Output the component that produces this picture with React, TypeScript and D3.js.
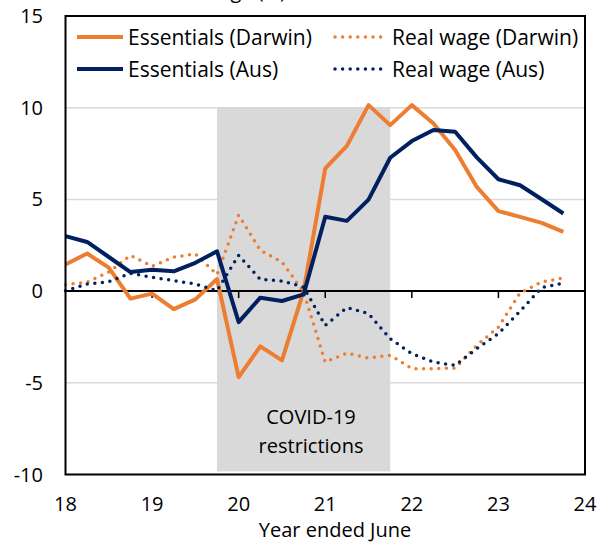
import React from "react";
import * as d3 from "d3";

// quarterly, year ended June
const quarters = [
  18, 18.25, 18.5, 18.75, 19, 19.25, 19.5, 19.75, 20, 20.25, 20.5, 20.75,
  21, 21.25, 21.5, 21.75, 22, 22.25, 22.5, 22.75, 23, 23.25, 23.5, 23.75,
];

const essentialsDarwin = [
  1.45, 2.05, 1.28, -0.41, -0.14, -0.98, -0.45, 0.66, -4.69, -3.01, -3.78, 0.0,
  6.69, 7.92, 10.14, 9.05, 10.14, 9.14, 7.69, 5.68, 4.36, 4.05, 3.72, 3.23,
];
const realWageDarwin = [
  0.35, 0.48, 1.04, 1.95, 1.35, 1.85, 2.03, 0.9, 4.14, 2.23, 1.59, -0.05,
  -3.87, -3.38, -3.65, -3.5, -4.23, -4.23, -4.2, -2.96, -1.96, -0.1, 0.5, 0.72,
];
const essentialsAus = [
  3.0, 2.68, 1.86, 1.04, 1.17, 1.08, 1.54, 2.17, -1.69, -0.36, -0.54, -0.18,
  4.05, 3.83, 4.99, 7.27, 8.18, 8.78, 8.69, 7.29, 6.1, 5.77, 5.01, 4.23,
];
const realWageAus = [
  0.02, 0.39, 0.51, 0.97, 0.75, 0.57, 0.39, 0.02, 1.95, 0.64, 0.55, 0.22,
  -1.87, -0.9, -1.23, -2.6, -3.41, -3.87, -4.05, -3.14, -2.32, -1.1, 0.19, 0.44,
];

const yTicks = [15, 10, 5, 0, -5, -10];
const xTicks = [18, 19, 20, 21, 22, 23, 24];
const gridValues = [10, 5, -5];
const covidPeriod = [19.75, 21.75];

const ORANGE = "#ED7D31";
const NAVY = "#002060";
const FONT = "'Open Sans', sans-serif";

const series = [
  { name: "Essentials (Darwin)", values: essentialsDarwin, color: ORANGE, dotted: false },
  { name: "Real wage (Darwin)", values: realWageDarwin, color: ORANGE, dotted: true },
  { name: "Essentials (Aus)", values: essentialsAus, color: NAVY, dotted: false },
  { name: "Real wage (Aus)", values: realWageAus, color: NAVY, dotted: true },
];

const App = () => {
  const width = 608;
  const height = 542;
  const left = 65.5;
  const right = 585;
  const top = 16;
  const bottom = 474.5;

  const x = d3.scaleLinear().domain([18, 24]).range([left, right]);
  const y = d3.scaleLinear().domain([-10, 15]).range([bottom, top]);

  const line = d3
    .line<number>()
    .x((_, i) => x(quarters[i]))
    .y((d) => y(d));

  const dotStyle = { strokeDasharray: "0 7.6", strokeLinecap: "round" as const };

  return (
    <svg
      width={width}
      height={height}
      style={{ position: "absolute", left: 0, top: 0, fontFamily: FONT }}
    >
      {/* cut-off unit label, as in the source */}
      <text x={286} y={-2} textAnchor="end" fontSize={20} fill="#000">
        Annual change (%)
      </text>

      {/* gridlines */}
      {gridValues.map((v) => (
        <line key={v} x1={left} x2={right} y1={y(v)} y2={y(v)} stroke="#D9D9D9" strokeWidth={1.5} />
      ))}

      {/* COVID shading */}
      <rect
        x={x(covidPeriod[0])}
        y={y(10)}
        width={x(covidPeriod[1]) - x(covidPeriod[0])}
        height={y(-9.83) - y(10)}
        fill="#D9D9D9"
      />
      <text x={x(covidPeriod[0]) + 94} y={424} textAnchor="middle" fontSize={20} fill="#000">
        COVID-19
      </text>
      <text x={x(covidPeriod[0]) + 94} y={453} textAnchor="middle" fontSize={20} fill="#000">
        restrictions
      </text>

      {/* zero axis and ticks */}
      <line x1={left} x2={right} y1={y(0)} y2={y(0)} stroke="#000" strokeWidth={2} />
      {xTicks.slice(1, -1).map((t) => (
        <line key={t} x1={x(t)} x2={x(t)} y1={y(0)} y2={y(0) + 7} stroke="#000" strokeWidth={1.5} />
      ))}

      {/* series */}
      {series.map((s) => (
        <path
          key={s.name}
          d={line(s.values) || ""}
          fill="none"
          stroke={s.color}
          strokeWidth={s.dotted ? 3.5 : 4}
          strokeLinejoin="round"
          style={s.dotted ? dotStyle : undefined}
        />
      ))}

      {/* frame */}
      <rect x={left} y={top} width={right - left} height={bottom - top} fill="none" stroke="#000" strokeWidth={2} />

      {/* y tick labels */}
      {yTicks.map((v) => (
        <text key={v} x={43} y={y(v) + 7} textAnchor="end" fontSize={20} fill="#000">
          {v}
        </text>
      ))}

      {/* x tick labels */}
      {xTicks.map((t) => (
        <text key={t} x={x(t)} y={511} textAnchor="middle" fontSize={20} fill="#000">
          {t}
        </text>
      ))}
      <text x={335} y={537} textAnchor="middle" fontSize={20} fill="#000">
        Year ended June
      </text>

      {/* legend */}
      {series.map((s, i) => {
        const col = i % 2;
        const row = Math.floor(i / 2);
        const lx = col === 0 ? 77 : 335;
        const ly = 37 + row * 32;
        return (
          <g key={s.name}>
            <line
              x1={lx}
              x2={lx + (col === 0 ? 46 : 51)}
              y1={ly}
              y2={ly}
              stroke={s.color}
              strokeWidth={s.dotted ? 3.5 : 4}
              style={s.dotted ? dotStyle : undefined}
            />
            <text x={col === 0 ? 128 : 392} y={ly + 7.5} fontSize={21} fill="#000">
              {s.name}
            </text>
          </g>
        );
      })}
    </svg>
  );
};

export default App;
